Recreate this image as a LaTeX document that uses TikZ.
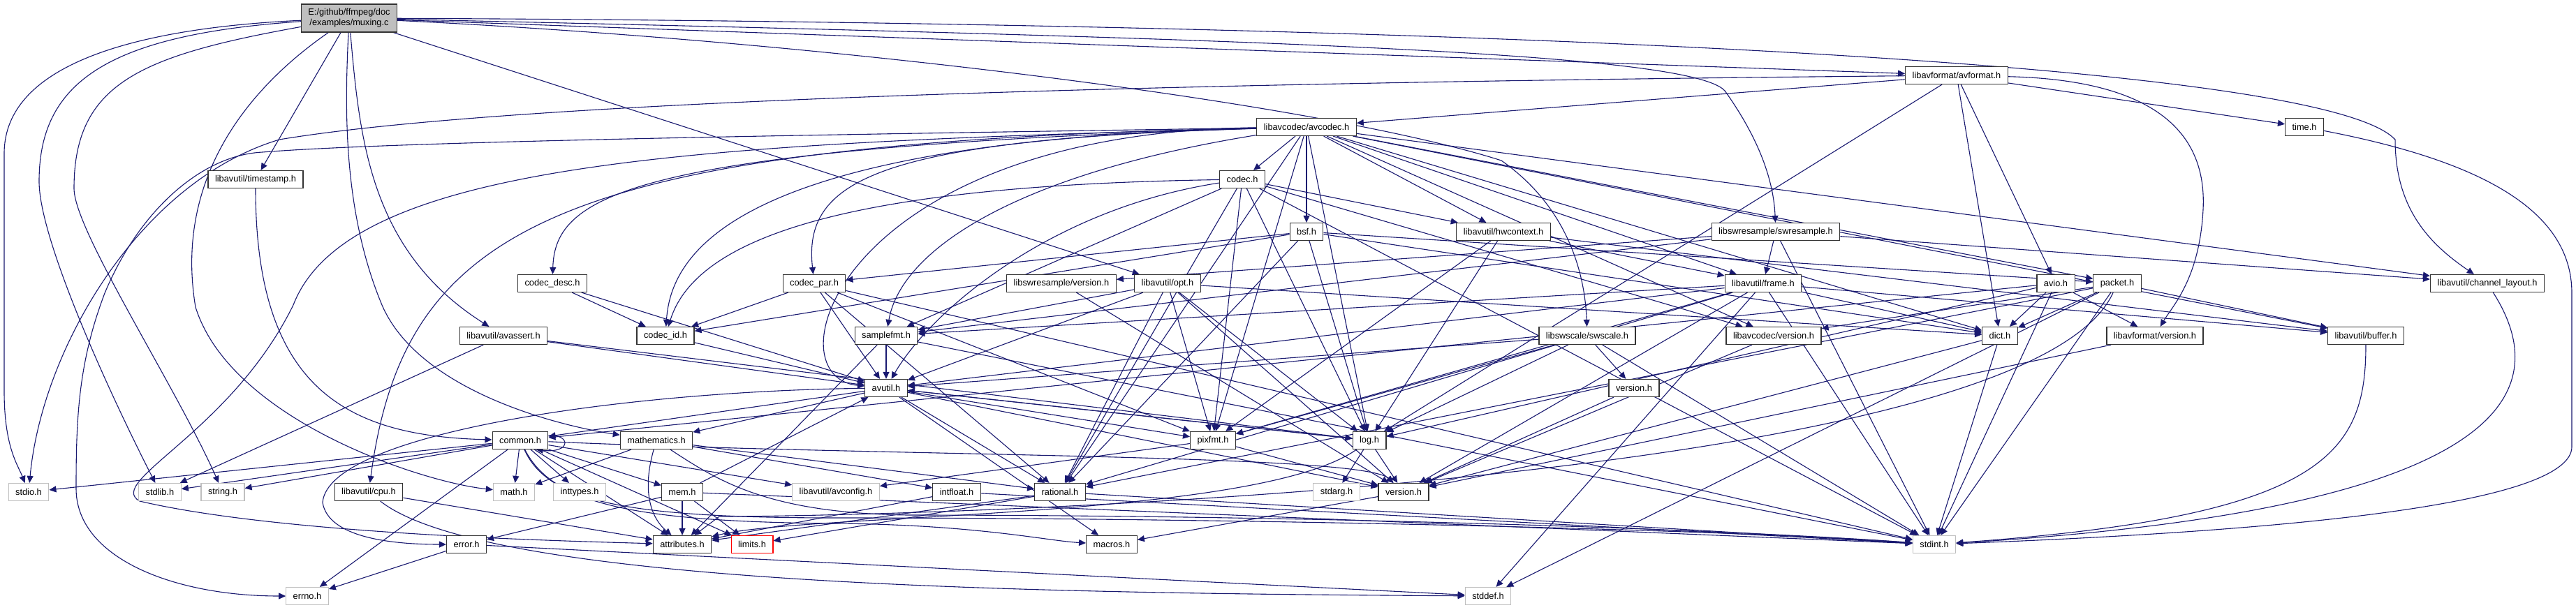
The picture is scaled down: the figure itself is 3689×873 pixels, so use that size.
\documentclass[tikz,border=0pt]{standalone}
\usepackage{fontspec}
\setmainfont{Liberation Sans}
\usetikzlibrary{arrows.meta}
\definecolor{lnk}{HTML}{191970}
\definecolor{mainfill}{HTML}{BFBFBF}
\pgfdeclarelayer{bg}
\pgfsetlayers{bg,main}
\begin{document}
\begin{tikzpicture}[x=1pt,y=-1pt,
  box/.style={draw=black!80, line width=1.2pt, fill=white, inner xsep=10pt, inner ysep=0pt, minimum height=25pt, font=\fontsize{12.8}{15}\selectfont},
  sys/.style={box, draw=black!25},
  trunc/.style={box, draw=red},
  edge/.style={draw=lnk, line width=1.1pt, -{Triangle[length=10pt,width=9pt]}}]
\begin{pgfonlayer}{bg}
\fill[white] (0,0) rectangle (3689,873);
\end{pgfonlayer}
\useasboundingbox (0,0) rectangle (3689,873);
% nodes
\node[box, fill=mainfill, align=center, minimum height=40pt] (muxing) at (500,26) {E:/github/ffmpeg/doc\\/examples/muxing.c};
\node[box] (avformat) at (2802,108) {libavformat/avformat.h};
\node[box] (avcodec) at (1871,182) {libavcodec/avcodec.h};
\node[box] (timeh) at (3300,182) {time.h};
\node[box] (timestamp) at (366,257) {libavutil/timestamp.h};
\node[box] (codec) at (1779,257) {codec.h};
\node[box] (bsf) at (1871,332) {bsf.h};
\node[box] (hwcontext) at (2153,332) {libavutil/hwcontext.h};
\node[box] (swresample) at (2543,332) {libswresample/swresample.h};
\node[box] (codecdesc) at (791,406) {codec\_desc.h};
\node[box] (codecpar) at (1166,406) {codec\_par.h};
\node[box] (swrversion) at (1520,406) {libswresample/version.h};
\node[box] (opt) at (1672,406) {libavutil/opt.h};
\node[box] (frame) at (2525,406) {libavutil/frame.h};
\node[box] (avio) at (2944,406) {avio.h};
\node[box] (packet) at (3032,406) {packet.h};
\node[box] (chlayout) at (3562,406) {libavutil/channel\_layout.h};
\node[box] (avassert) at (721,481) {libavutil/avassert.h};
\node[box] (codecid) at (953,481) {codec\_id.h};
\node[box] (samplefmt) at (1269,481) {samplefmt.h};
\node[box] (swscale) at (2273,481) {libswscale/swscale.h};
\node[box] (lavcversion) at (2540,481) {libavcodec/version.h};
\node[box] (dict) at (2864,481) {dict.h};
\node[box] (lavfversion) at (3086,481) {libavformat/version.h};
\node[box] (buffer) at (3388,481) {libavutil/buffer.h};
\node[box] (avutil) at (1269,556) {avutil.h};
\node[box] (swsversion) at (2340,556) {version.h};
\node[box] (common) at (745,631) {common.h};
\node[box] (mathematics) at (940,631) {mathematics.h};
\node[box] (pixfmt) at (1737,631) {pixfmt.h};
\node[box] (log) at (1961,631) {log.h};
\node[sys] (stdio) at (41,705) {stdio.h};
\node[sys] (stdlib) at (229,705) {stdlib.h};
\node[sys] (string) at (319,705) {string.h};
\node[box] (cpu) at (528,705) {libavutil/cpu.h};
\node[sys] (math) at (736,705) {math.h};
\node[sys] (inttypes) at (830,705) {inttypes.h};
\node[box] (mem) at (977,705) {mem.h};
\node[sys] (avconfig) at (1197,705) {libavutil/avconfig.h};
\node[box] (intfloat) at (1370,705) {intfloat.h};
\node[box] (rational) at (1518,705) {rational.h};
\node[sys] (stdarg) at (1914,705) {stdarg.h};
\node[box] (version) at (2010,705) {version.h};
\node[box] (attributes) at (977,780) {attributes.h};
\node[trunc] (limits) at (1077,780) {limits.h};
\node[box] (macros) at (1592,780) {macros.h};
\node[box] (error) at (668,780) {error.h};
\node[sys] (stdint) at (2770,780) {stdint.h};
\node[sys] (errno) at (440,854) {errno.h};
\node[sys] (stddef) at (2131,854) {stddef.h};
% edges
\begin{pgfonlayer}{bg}
\draw[edge] (muxing) .. controls (200,40) and (6,90) .. (6,220) -- (6,560) .. controls (6,640) and (25,665) .. (stdio);
\draw[edge] (muxing) .. controls (150,50) and (56,120) .. (56,260) .. controls (56,340) and (150,550) .. (stdlib);
\draw[edge] (muxing) .. controls (200,80) and (106,120) .. (106,270) .. controls (106,330) and (250,550) .. (string);
\draw[edge] (muxing) .. controls (350,130) and (250,260) .. (280,440) .. controls (330,600) and (600,690) .. (math);
\draw[edge] (muxing) .. controls (494,150) and (490,300) .. (547,437) .. controls (600,560) and (800,610) .. (mathematics);
\draw[edge] (muxing) .. controls (515,200) and (530,360) .. (avassert);
\draw[edge] (muxing) .. controls (1200,60) and (1900,150) .. (2150,230) .. controls (2250,300) and (2270,400) .. (swscale);
\draw[edge] (muxing) .. controls (1800,55) and (2420,75) .. (2470,130) .. controls (2520,200) and (2540,260) .. (swresample);
\draw[edge] (muxing) .. controls (1500,30) and (3300,60) .. (3430,200) .. controls (3430,300) and (3480,350) .. (chlayout);
\draw[edge] (avformat) .. controls (1500,120) and (700,150) .. (400,200) .. controls (200,260) and (60,500) .. (stdio);
\draw[edge] (avformat) .. controls (3100,115) and (3160,200) .. (3155,300) .. controls (3150,400) and (3110,440) .. (lavfversion);
\draw[edge] (avcodec) .. controls (1400,190) and (600,200) .. (376,218) .. controls (290,222) and (200,300) .. (150,420) .. controls (112,520) and (109,600) .. (109,700) .. controls (109,800) and (250,854) .. (errno);
\draw[edge] (avcodec) .. controls (900,212) and (795,280) .. (codecdesc);
\draw[edge] (avcodec) .. controls (1250,200) and (1150,260) .. (codecpar);
\draw[edge] (avcodec) .. controls (1450,250) and (1290,360) .. (samplefmt);
\draw[edge] (avcodec) .. controls (1100,200) and (962,340) .. (codecid);
\draw[edge] (avcodec) .. controls (800,205) and (580,320) .. (cpu);
\draw[edge] (avcodec) .. controls (1200,190) and (1100,540) .. (avutil);
\draw[edge] (avcodec) .. controls (1000,205) and (500,230) .. (420,437) .. controls (330,620) and (150,690) .. (200,718) .. controls (400,765) and (800,775) .. (attributes);
\draw[edge] (codec) .. controls (1250,265) and (1000,330) .. (codecid);
\draw[edge] (codec) .. controls (1500,300) and (1330,450) .. (avutil);
\draw[edge] (timeh) .. controls (3550,230) and (3683,300) .. (3683,420) -- (3683,640) .. controls (3683,720) and (3300,760) .. (stdint);
\draw[edge] (buffer) .. controls (3388,650) and (3330,740) .. (stdint);
\draw[edge] (chlayout) .. controls (3660,560) and (3600,730) .. (stdint);
\draw[edge] (timestamp) .. controls (366,560) and (500,625) .. (common);
\draw[edge] (avutil) .. controls (900,560) and (470,620) .. (462,720) .. controls (470,770) and (560,780) .. (error);
\draw[edge] (common) .. controls (785,720) and (900,742) .. (1200,742) .. controls (1800,742) and (2500,760) .. (stdint);
\draw[edge] (mathematics) .. controls (1030,690) and (1100,735) .. (1300,738) .. controls (1900,738) and (2500,760) .. (stdint);
\draw[edge] (common) .. controls (790,720) and (900,748) .. (1200,750) .. controls (1400,752) and (1500,775) .. (macros);
\draw[edge] (common) .. controls (1300,655) and (1950,650) .. (version);
\draw[edge] (log) .. controls (1800,745) and (1150,735) .. (attributes);
\draw[edge] (packet) .. controls (2900,700) and (1300,740) .. (1030,740) -- (attributes);
\draw[edge] (cpu) .. controls (700,840) and (1500,850) .. (stddef);
\draw[edge] (mathematics) .. controls (920,700) and (930,740) .. (attributes);
\draw[edge] (common.10) .. controls (818,622) and (818,650) .. (common.-30);
\foreach \a/\b in {muxing/timestamp, muxing/opt, muxing/avformat,
  avformat/timeh, avformat/avcodec, avformat/dict, avformat/log, avformat/avio,
  avcodec/buffer, avcodec/chlayout, avcodec/dict, avcodec/frame, avcodec/hwcontext, avcodec/log, avcodec/pixfmt, avcodec/rational, avcodec/bsf, avcodec/codec, avcodec/packet, avcodec/lavcversion,
  codec/stdint, codec/hwcontext, codec/log, codec/pixfmt, codec/rational, codec/samplefmt, codec/lavcversion,
  bsf/dict, bsf/log, bsf/rational, bsf/codecid, bsf/codecpar, bsf/packet,
  codecdesc/avutil, codecdesc/codecid, codecid/avutil,
  codecpar/stdint, codecpar/avutil, codecpar/rational, codecpar/pixfmt, codecpar/codecid,
  packet/stddef, packet/stdint, packet/buffer, packet/dict, packet/rational, packet/lavcversion,
  lavcversion/version, avio/stdint, avio/common, avio/dict, avio/log, avio/lavfversion, lavfversion/version,
  swscale/stdint, swscale/avutil, swscale/log, swscale/pixfmt, swscale/swsversion, swsversion/version,
  swresample/stdint, swresample/chlayout, swresample/frame, swresample/samplefmt, swresample/swrversion, swrversion/version,
  opt/rational, opt/avutil, opt/dict, opt/log, opt/pixfmt, opt/samplefmt, opt/version,
  frame/stddef, frame/stdint, frame/avutil, frame/buffer, frame/dict, frame/rational, frame/samplefmt, frame/pixfmt, frame/version,
  hwcontext/buffer, hwcontext/frame, hwcontext/log, hwcontext/pixfmt,
  dict/stdint, dict/version,
  avassert/stdlib, avassert/avutil, avassert/log,
  mathematics/math, mathematics/rational, mathematics/intfloat,
  samplefmt/stdint, samplefmt/avutil, samplefmt/attributes,
  avutil/common, avutil/rational, avutil/version, avutil/macros, avutil/mathematics, avutil/log, avutil/pixfmt,
  common/errno, common/inttypes, common/limits, common/math, common/stdio, common/stdlib, common/string, common/attributes, common/avconfig, common/mem,
  error/errno, error/stddef, mem/limits, mem/stdint, mem/attributes, mem/error, mem/avutil,
  log/stdarg, log/avutil, log/version, pixfmt/avconfig, pixfmt/version,
  rational/stdint, rational/limits, rational/attributes, intfloat/stdint, intfloat/attributes,
  version/macros, cpu/attributes}
  \draw[edge] (\a) -- (\b);
\end{pgfonlayer}
\end{tikzpicture}
\end{document}
